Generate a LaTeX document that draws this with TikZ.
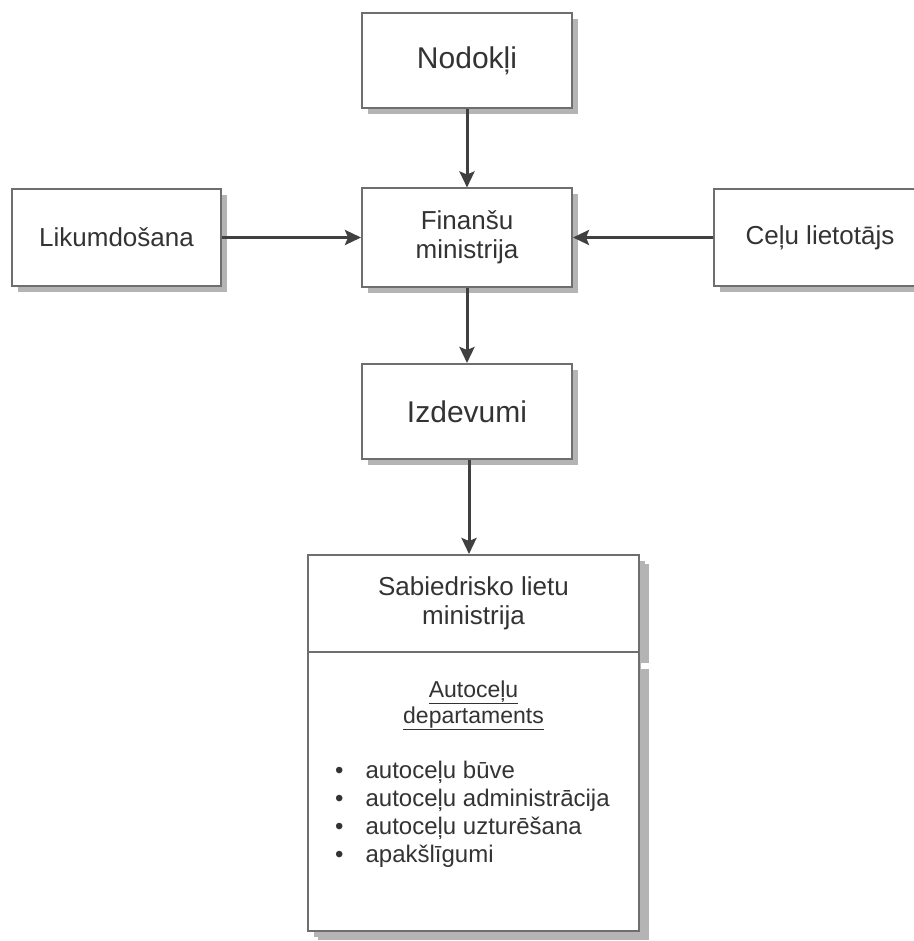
\documentclass[tikz,border=0pt]{standalone}
\usepackage{fontspec}
\setmainfont{Liberation Sans}
\usetikzlibrary{arrows.meta,shadows}

\definecolor{ink}{HTML}{333333}
\definecolor{frame}{HTML}{6E6E6E}
\definecolor{shade}{HTML}{B4B4B4}
\definecolor{wire}{HTML}{404040}

\tikzset{
  box/.style={draw=frame, line width=2pt, fill=white, text=ink, align=center,
    inner sep=0pt,
    drop shadow={shadow xshift=6pt, shadow yshift=-6pt, fill=shade, opacity=1}},
  bigbox/.style={box, drop shadow={shadow xshift=10pt, shadow yshift=-9pt, fill=shade, opacity=1}},
  bigtext/.style={font=\fontsize{30}{34}\selectfont},
  midtext/.style={font=\fontsize{26}{29}\selectfont},
  smalltext/.style={font=\fontsize{23}{26}\selectfont, text=ink, inner sep=0pt},
  listtext/.style={font=\fontsize{24}{28}\selectfont, text=ink, inner sep=0pt},
  flow/.style={draw=wire, line width=3pt, -{Stealth[length=16pt,width=15pt,inset=3pt]}},
}

\begin{document}
\begin{tikzpicture}[x=1pt, y=-1pt]
  \useasboundingbox (0,0) rectangle (913,941);
  \fill[white] (0,0) rectangle (913,941);

  % top row and centre column
  \node[box, bigtext, minimum width=210pt, minimum height=95pt] (nod) at (467,60.5) {Nodokļi};
  \node[box, midtext, minimum width=209pt, minimum height=96pt] (lik) at (116.5,237.5) {Likumdošana};
  \node[box, midtext, minimum width=212pt, minimum height=97pt] (cel) at (820,237.5) {Ceļu lietotājs};
  \node[box, midtext, minimum width=210pt, minimum height=98pt] (fin) at (467,237.5) {Finanšu\\ministrija};
  \node[box, bigtext, minimum width=210pt, minimum height=95pt] (izd) at (467,411.5) {Izdevumi};

  % ministry with its department
  \node[bigbox, midtext, minimum width=331pt, minimum height=97pt] (sab) at (473.5,603.5) {Sabiedrisko lietu\\ministrija};
  \node[bigbox, minimum width=331pt, minimum height=279pt] (dep) at (473.5,791.5) {};
  \fill[white] (641,663) rectangle (652,669);

  \node[smalltext, anchor=base] (dephead) at (473.5,697)
    {\begin{tabular}[t]{@{}c@{}}\underline{Autoceļu}\\\underline{departaments}\end{tabular}};
  \node[listtext, anchor=base west] (duties) at (335,778)
    {\begin{tabular}[t]{@{}l@{\hspace{22pt}}l@{}}
      \textbullet & autoceļu būve\\
      \textbullet & autoceļu administrācija\\
      \textbullet & autoceļu uzturēšana\\
      \textbullet & apakšlīgumi
    \end{tabular}};

  % connectors
  \draw[flow] (nod.south) -- (fin.north);
  \draw[flow] (lik.east) -- (fin.west);
  \draw[flow] (cel.west) -- (fin.east);
  \draw[flow] (fin.south) -- (izd.north);
  \draw[flow] ([xshift=2pt]izd.south) -- ([xshift=2pt]izd.south |- sab.north);
\end{tikzpicture}
\end{document}
